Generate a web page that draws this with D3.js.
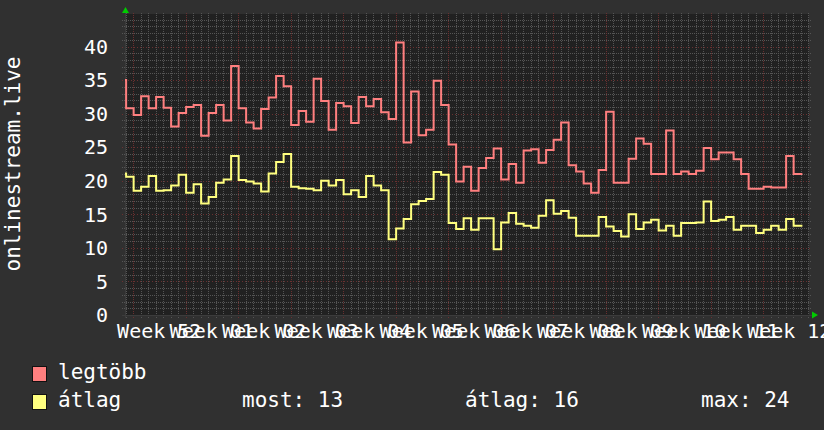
<!DOCTYPE html>
<html>
<head>
<meta charset="utf-8">
<script src="https://cdn.jsdelivr.net/npm/d3@7/dist/d3.min.js"></script>
<style>
  body { margin: 0; background: #303030; }
  text { font-family: "DejaVu Sans Mono", monospace; fill: #ffffff; }
</style>
</head>
<body>
<script>
// daily values, first day = 2019-12-21
var firstDay = new Date(Date.UTC(2019, 11, 21, 2));
var maxValues = [35.0, 30.8, 29.8, 32.6, 30.8, 32.5, 30.9, 28.1, 30.1, 31.0,
  31.3, 26.7, 30.1, 31.3, 29.0, 37.1, 30.8, 28.7, 27.8, 30.7,
  32.4, 35.6, 34.1, 28.3, 30.4, 28.8, 35.2, 31.9, 27.6, 31.6,
  31.1, 28.6, 32.5, 31.1, 32.2, 30.2, 29.2, 40.6, 25.7, 33.3,
  26.8, 27.6, 34.9, 31.3, 25.4, 19.9, 22.1, 18.5, 21.9, 23.4,
  24.8, 20.2, 22.5, 19.7, 24.5, 24.7, 22.7, 24.6, 26.1, 28.7,
  22.3, 21.4, 19.6, 18.2, 21.6, 30.3, 19.7, 19.7, 23.3, 26.3,
  25.5, 21.0, 21.0, 27.5, 21.0, 21.4, 21.0, 21.5, 24.9, 23.2,
  24.2, 24.2, 23.2, 21.0, 18.8, 18.8, 19.1, 19.0, 19.0, 23.7, 21.0];
var avgValues = [21.1, 20.6, 18.5, 19.1, 20.7, 18.5, 18.6, 19.3, 20.9, 18.2,
  19.5, 16.6, 17.6, 19.7, 20.2, 23.7, 20.1, 19.9, 19.6, 18.4,
  21.1, 22.8, 24.0, 19.1, 18.9, 18.8, 18.6, 20.0, 19.3, 20.1,
  18.0, 18.6, 17.6, 20.7, 19.3, 18.6, 11.3, 12.9, 14.3, 16.5,
  17.0, 17.3, 21.3, 20.9, 13.7, 12.8, 14.4, 12.7, 14.4, 14.4,
  9.8, 13.8, 15.2, 13.6, 13.3, 13.0, 14.8, 17.1, 15.1, 15.5,
  14.5, 11.8, 11.8, 11.8, 14.6, 13.2, 12.5, 11.7, 15.0, 12.8,
  13.8, 14.2, 12.6, 13.3, 11.8, 13.7, 13.7, 13.8, 16.9, 14.0,
  14.2, 14.6, 12.7, 13.3, 13.3, 12.2, 12.7, 13.3, 12.7, 14.3, 13.3];
var yTicks = [0, 5, 10, 15, 20, 25, 30, 35, 40];
var seriesNames = ['legtöbb', 'átlag'];
var seriesColors = ['#ff7f7f', '#ffff7f'];
var statLabels = ['most', 'átlag', 'max'];

var W = 824, H = 430;
var x0 = 125, x1 = 809, yTop = 13, yBot = 315;

var svg = d3.select('body').append('svg')
  .attr('width', W).attr('height', H);

svg.append('rect').attr('width', W).attr('height', H).attr('fill', '#303030');

var x = d3.scaleUtc()
  .domain([new Date(Date.UTC(2019, 11, 21, 22, 24)), new Date(Date.UTC(2020, 2, 22, 3, 12))])
  .range([x0, x1]);
var y = d3.scaleLinear().domain([0, 45]).range([yBot, yTop]);

// plot background
svg.append('rect')
  .attr('x', x0).attr('y', yTop + 1)
  .attr('width', x1 - x0).attr('height', yBot - yTop - 1)
  .attr('fill', '#212121');

var grid = svg.append('g').attr('shape-rendering', 'crispEdges');

// minor grid: days / 1 unit
grid.selectAll('.vmin')
  .data(d3.utcDay.range(x.domain()[0], x.domain()[1]))
  .enter().append('line')
  .attr('x1', function(d) { return Math.round(x(d)) + 0.5; })
  .attr('x2', function(d) { return Math.round(x(d)) + 0.5; })
  .attr('y1', yTop).attr('y2', yBot + 3)
  .attr('stroke', '#555555').attr('stroke-dasharray', '1,1');

grid.selectAll('.hmin')
  .data(d3.range(1, 45).filter(function(v) { return v % 5 !== 0; }))
  .enter().append('line')
  .attr('x1', x0 - 3).attr('x2', x1 + 3)
  .attr('y1', function(d) { return Math.round(y(d)) + 0.5; })
  .attr('y2', function(d) { return Math.round(y(d)) + 0.5; })
  .attr('stroke', '#555555').attr('stroke-dasharray', '1,1');

// major grid: weeks / 5 units
var mondays = d3.utcMonday.range(x.domain()[0], x.domain()[1]);
grid.selectAll('.vmaj')
  .data(mondays)
  .enter().append('line')
  .attr('x1', function(d) { return Math.round(x(d)) + 0.5; })
  .attr('x2', function(d) { return Math.round(x(d)) + 0.5; })
  .attr('y1', yTop).attr('y2', yBot + 3)
  .attr('stroke', '#6a3030').attr('stroke-dasharray', '1,1');

grid.selectAll('.hmaj')
  .data(yTicks.slice(1))
  .enter().append('line')
  .attr('x1', x0 - 3).attr('x2', x1 + 3)
  .attr('y1', function(d) { return Math.round(y(d)) + 0.5; })
  .attr('y2', function(d) { return Math.round(y(d)) + 0.5; })
  .attr('stroke', '#6a3030').attr('stroke-dasharray', '1,2');

// axes
grid.append('line')
  .attr('x1', x0 - 3).attr('x2', x1 + 3)
  .attr('y1', yBot + 0.5).attr('y2', yBot + 0.5)
  .attr('stroke', '#3c3c3c');
grid.append('line')
  .attr('x1', x0 + 0.5).attr('x2', x0 + 0.5)
  .attr('y1', yTop).attr('y2', yBot + 3)
  .attr('stroke', '#3c3c3c');

// arrows
svg.append('path')
  .attr('d', 'M' + (x0 - 3) + ',' + (yTop) + 'L' + (x0 + 4) + ',' + (yTop) + 'L' + (x0 + 0.5) + ',' + (yTop - 6) + 'Z')
  .attr('fill', '#00cc00');
svg.append('path')
  .attr('d', 'M' + (x1 + 3) + ',' + (yBot - 3.5) + 'L' + (x1 + 3) + ',' + (yBot + 3.5) + 'L' + (x1 + 9) + ',' + yBot + 'Z')
  .attr('fill', '#00cc00');

// y tick labels
svg.selectAll('.ylab')
  .data(yTicks)
  .enter().append('text')
  .attr('x', 108)
  .attr('y', function(d) { return y(d); })
  .attr('dy', '0.36em')
  .attr('text-anchor', 'end')
  .style('font-size', '20px')
  .text(function(d) { return d; });

// x labels centred mid-week
var weekFmt = d3.utcFormat('Week %V');
svg.selectAll('.xlab')
  .data(mondays)
  .enter().append('text')
  .attr('x', function(d) { return x(d3.utcHour.offset(d, 84)); })
  .attr('y', 338)
  .attr('text-anchor', 'middle')
  .style('font-size', '20px')
  .text(function(d) { return weekFmt(d); });

// y title
svg.append('text')
  .attr('transform', 'translate(20,164) rotate(-90)')
  .attr('text-anchor', 'middle')
  .style('font-size', '21px')
  .text('onlinestream.live');

// series lines
function toPoints(vals) {
  var pts = vals.map(function(v, i) { return { t: d3.utcDay.offset(firstDay, i), v: v }; });
  var last = pts[pts.length - 1];
  pts.push({ t: d3.utcHour.offset(last.t, 28), v: last.v });
  return pts;
}
var line = d3.line()
  .x(function(d) { return x(d.t); })
  .y(function(d) { return y(d.v); })
  .curve(d3.curveStepAfter);

svg.append('clipPath').attr('id', 'clip')
  .append('rect').attr('x', x0).attr('y', yTop).attr('width', x1 - x0).attr('height', yBot - yTop);

[maxValues, avgValues].forEach(function(vals, i) {
  svg.append('path')
    .datum(toPoints(vals))
    .attr('clip-path', 'url(#clip)')
    .attr('d', line)
    .attr('fill', 'none')
    .attr('stroke', seriesColors[i])
    .attr('stroke-width', 2);
});

// legend
var legend = svg.append('g');
seriesNames.forEach(function(name, i) {
  legend.append('rect')
    .attr('x', 32.5).attr('y', 366.5 + i * 28)
    .attr('width', 14).attr('height', 15)
    .attr('fill', seriesColors[i])
    .attr('stroke', '#111');
  legend.append('text')
    .attr('x', 58).attr('y', 379 + i * 28)
    .style('font-size', '21px')
    .text(name);
});

var fmt = d3.format('.0f');
var stats = [avgValues[avgValues.length - 1], d3.mean(avgValues), d3.max(avgValues)];
var statX = [242, 465, 701];
stats.forEach(function(s, i) {
  legend.append('text')
    .attr('x', statX[i]).attr('y', 407)
    .style('font-size', '21px')
    .text(statLabels[i] + ': ' + fmt(s));
});
</script>
</body>
</html>
